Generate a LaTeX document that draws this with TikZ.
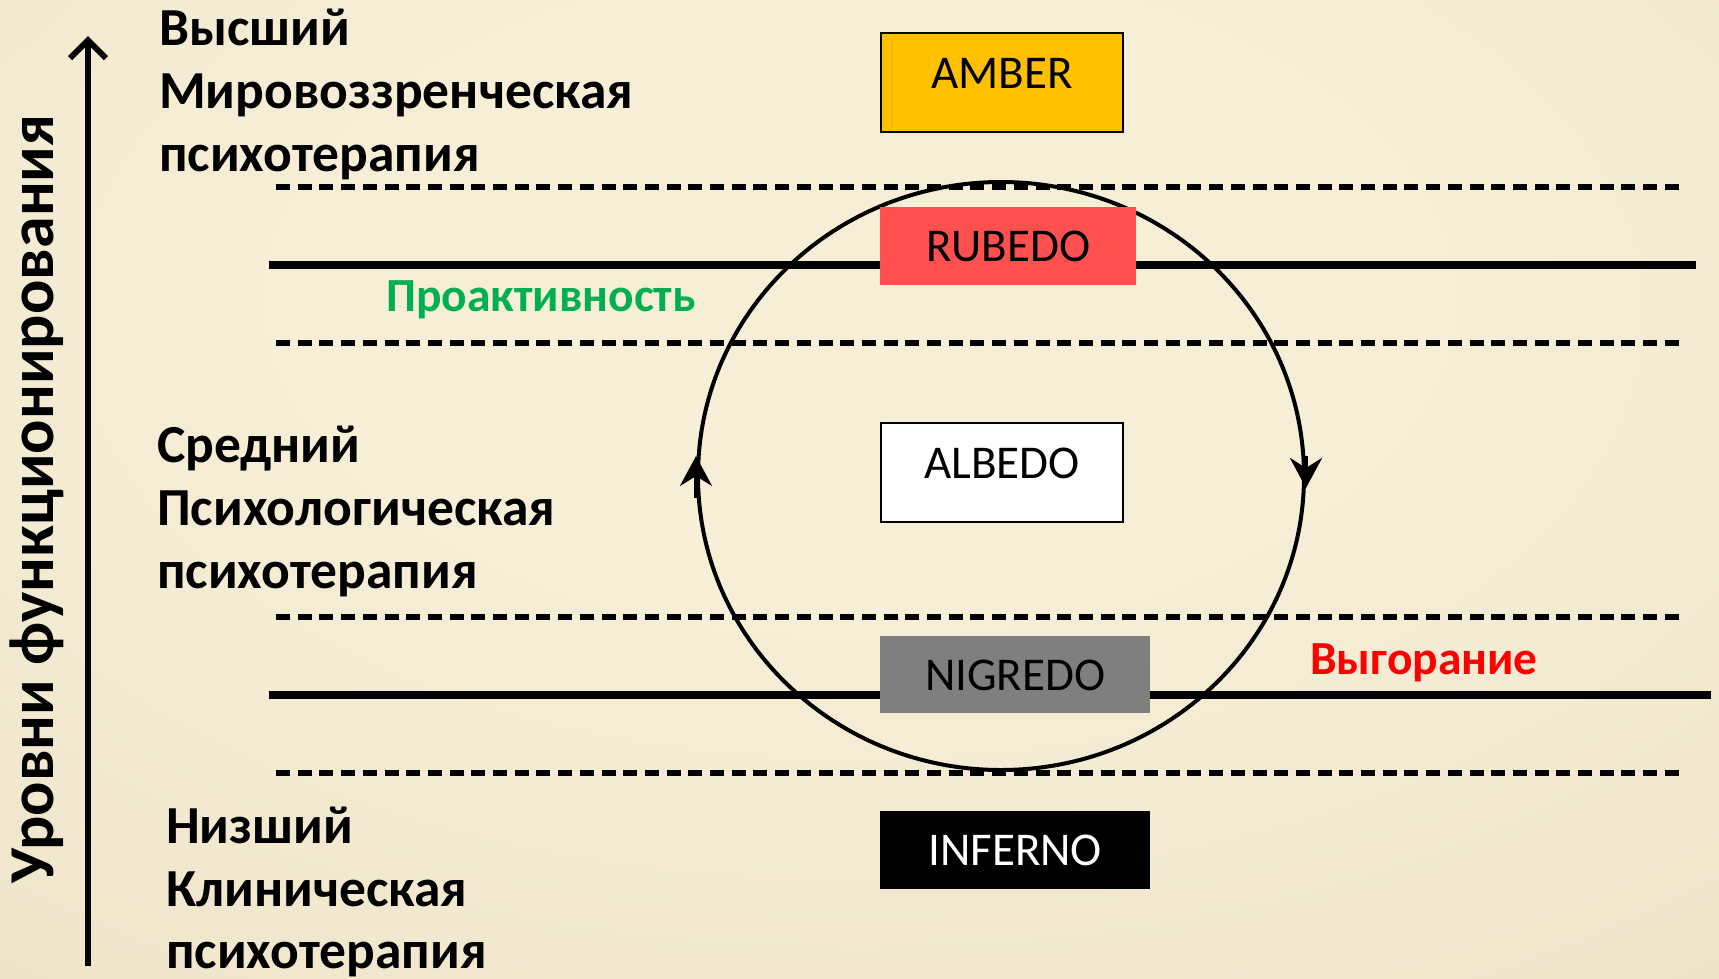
\documentclass[tikz,border=0pt]{standalone}
\usepackage{fontspec}
\setmainfont{Carlito}
\usetikzlibrary{arrows.meta,shapes.geometric,calc}
\definecolor{bgc}{HTML}{F7EED8}
\definecolor{bgm}{HTML}{EFE6CC}
\definecolor{bge}{HTML}{DBD0AE}
\definecolor{amberc}{HTML}{FFC000}
\definecolor{rubedoc}{HTML}{FF5050}
\definecolor{nigredoc}{HTML}{7F7F7F}
\definecolor{proc}{HTML}{00B050}
\definecolor{burnc}{HTML}{FF0000}
\pgfdeclareradialshading{parch}{\pgfpoint{0bp}{12bp}}{color(0bp)=(bgc); color(16bp)=(bgc); color(38bp)=(bgm); color(60bp)=(bge); color(90bp)=(bge)}
\begin{document}
\begin{tikzpicture}[x=1pt,y=-1pt,
  lvl/.style={anchor=base west, inner sep=0pt, font=\fontsize{53.5}{53.5}\selectfont\bfseries},
  stage/.style={anchor=north west, inner sep=0pt, font=\fontsize{47}{47}\selectfont, align=center},
  solidln/.style={line width=8pt},
  dashln/.style={line width=6pt, dash pattern=on 14pt off 7.7pt},
  cyclearrow/.style={line width=4pt, -{Stealth[length=30pt,width=32pt,inset=10pt]}},
  note/.style={anchor=base west, inner sep=0pt, font=\fontsize{47.5}{47.5}\selectfont\bfseries}]
\useasboundingbox (0,0) rectangle (1719,978);
\shade[shading=parch] (0,0) rectangle (1719,978);

% level lines
\draw[dashln] (276,187) -- (1681,187);
\draw[solidln] (269,265) -- (1696,265);
\draw[dashln] (276,343) -- (1681,343);
\draw[dashln] (276,617) -- (1681,617);
\draw[solidln] (269,695) -- (1711,695);
\draw[dashln] (276,773) -- (1681,773);

% cycle
\node[draw, ellipse, line width=4pt, minimum width=606pt, minimum height=588pt, inner sep=0pt] (cyc) at (1001,476) {};
\draw[cyclearrow] ($(cyc.west)+(0,22)$) -- ($(cyc.west)+(0,-20)$);
\draw[cyclearrow] ($(cyc.east)+(0,-20)$) -- ($(cyc.east)+(0,12)$);

% stages
\node[stage, fill=amberc, draw=black, line width=2pt, minimum width=242pt, text height=55pt, text depth=44pt] (amber) at (880,32) {AMBER};
\node[stage, fill=rubedoc, minimum width=256pt, text height=54pt, text depth=24pt] (rubedo) at (880,207) {RUBEDO};
\node[stage, fill=white, draw=black, line width=2pt, minimum width=242pt, text height=55pt, text depth=44pt] (albedo) at (880,422) {ALBEDO};
\node[stage, fill=nigredoc, minimum width=270pt, text height=54pt, text depth=23pt] (nigredo) at (880,636) {NIGREDO};
\node[stage, fill=black, text=white, minimum width=270pt, text height=54pt, text depth=24pt] (inferno) at (880,811) {INFERNO};

% axis
\coordinate (axbot) at (88,966);
\coordinate (axtop) at (88,36);
\draw[line width=6pt, -{Straight Barb[length=18pt,width=36pt]}] (axbot) -- (axtop);
\node[rotate=90, anchor=base, inner sep=0pt, font=\fontsize{64}{64}\selectfont\bfseries] (axlbl) at (53,499) {Уровни функционирования};

% level labels
\node[lvl] (hi1) at (159,45) {Высший};
\node[lvl] (hi2) at (159,108) {Мировоззренческая};
\node[lvl] (hi3) at (159,171) {психотерапия};
\node[lvl] (mid1) at (157,462) {Средний};
\node[lvl] (mid2) at (157,525) {Психологическая};
\node[lvl] (mid3) at (157,588) {психотерапия};
\node[lvl] (lo1) at (166,843) {Низший};
\node[lvl] (lo2) at (166,906) {Клиническая};
\node[lvl] (lo3) at (166,968) {психотерапия};

% notes
\node[note, text=proc] (proact) at (386,311) {Проактивность};
\node[note, text=burnc] (burn) at (1310,674) {Выгорание};
\end{tikzpicture}
\end{document}
